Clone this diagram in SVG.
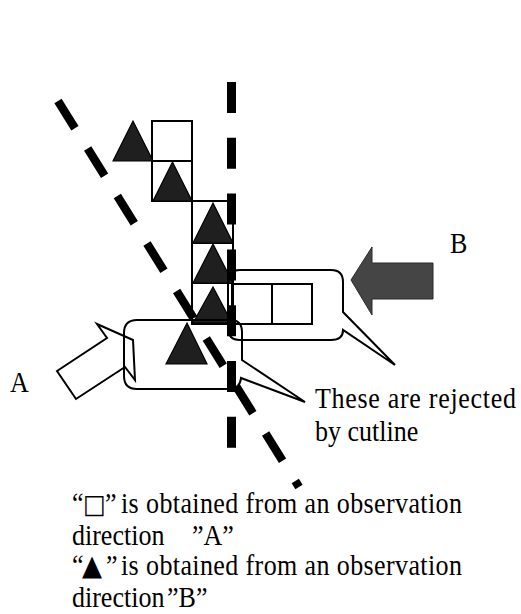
<svg xmlns="http://www.w3.org/2000/svg" width="521" height="614" viewBox="0 0 521 614">
  <style>
    .cell { fill: none; stroke: #000; stroke-width: 2; }
    .tri { fill: #1f1f1f; stroke: #000; stroke-width: 1.2; stroke-linejoin: miter; }
    .balloon { fill: none; stroke: #000; stroke-width: 2; stroke-linejoin: miter; }
    .cut { stroke: #000; fill: none; }
    .lbl { font-family: "Liberation Serif", "DejaVu Serif", serif; font-size: 26px; fill: #000; }
    .sym { font-family: "DejaVu Sans", sans-serif; }
  </style>
  <rect width="521" height="614" fill="#fff"/>

  <!-- observation direction A: hollow arrow -->
  <g id="arrow-a">
    <polygon points="57,371 107,338 97,324 133,340 135,380 125,367 76,399" fill="#fff" stroke="#000" stroke-width="2" stroke-linejoin="miter"/>
  </g>

  <!-- observation direction B: solid arrow -->
  <g id="arrow-b">
    <polygon points="351,280 372,247 372,263 433,263 433,299 372,299 372,315" fill="#454545" stroke="#2a2a2a" stroke-width="1"/>
  </g>

  <!-- cells seen from A -->
  <g id="cells">
    <rect class="cell" x="152" y="121" width="40" height="40"/>
    <rect class="cell" x="152" y="161" width="40" height="40"/>
    <rect class="cell" x="192" y="201" width="41" height="42"/>
    <rect class="cell" x="192" y="243" width="41" height="40"/>
    <rect class="cell" x="192" y="283" width="41" height="41"/>
    <rect class="cell" x="232" y="284" width="40" height="40"/>
    <rect class="cell" x="272" y="284" width="40" height="40"/>
  </g>

  <!-- points seen from B -->
  <g id="points">
    <polygon class="tri" points="113,161 133,121 153,161"/>
    <polygon class="tri" points="153,201 172.5,162 192,201"/>
    <polygon class="tri" points="193,243 213,203 233,243"/>
    <polygon class="tri" points="193,283 213,244 233,283"/>
    <polygon class="tri" points="193,323 213,287 232,323"/>
    <polygon class="tri" points="166,364 187,323 207,364"/>
  </g>

  <!-- callouts -->
  <g id="balloon-b">
    <path class="balloon" d="M240,270 H331 Q343,270 343,282 V312 L395,365 L343,330 Q343,340 331,340 H240 Q228,340 228,328 V282 Q228,270 240,270 Z"/>
  </g>
  <g id="balloon-a">
    <path class="balloon" d="M137,320 H230 Q242,320 242,332 V360 L305,402 L241,378 Q240,389 229,389 H137 Q124,389 124,376 V333 Q124,320 137,320 Z"/>
  </g>

  <!-- cut lines -->
  <g id="connectors">
    <line class="cut" x1="231.5" y1="82" x2="231.5" y2="448" stroke-width="9" stroke-dasharray="31 24.8"/>
    <line class="cut" x1="58" y1="101" x2="299" y2="487" stroke-width="8.5" stroke-dasharray="32 24"/>
  </g>

  <!-- labels -->
  <g id="labels">
    <text class="lbl" transform="translate(10,392) scale(1,1.1)">A</text>
    <text class="lbl" transform="translate(450,253) scale(1,1.1)">B</text>
    <text class="lbl" transform="translate(315,408) scale(1,1.1)" textLength="201" lengthAdjust="spacing">These are rejected</text>
    <text class="lbl" transform="translate(315,441) scale(1,1.1)">by cutline</text>
  </g>

  <g id="legend">
    <text class="lbl" transform="translate(0,513) scale(1,1.1)"><tspan x="72">“</tspan><tspan class="sym" x="83" font-size="24">□</tspan><tspan x="105">”</tspan><tspan x="121" textLength="341" lengthAdjust="spacing">is obtained from an observation</tspan></text>
    <text class="lbl" transform="translate(0,545) scale(1,1.1)"><tspan x="72">direction</tspan><tspan x="192">”A”</tspan></text>
    <text class="lbl" transform="translate(0,575) scale(1,1.1)"><tspan x="72">“</tspan><tspan class="sym" x="82" font-size="26">▲</tspan><tspan x="106">”</tspan><tspan x="121" textLength="341" lengthAdjust="spacing">is obtained from an observation</tspan></text>
    <text class="lbl" transform="translate(0,607) scale(1,1.1)"><tspan x="72">direction</tspan><tspan x="167">”B”</tspan></text>
  </g>
</svg>
